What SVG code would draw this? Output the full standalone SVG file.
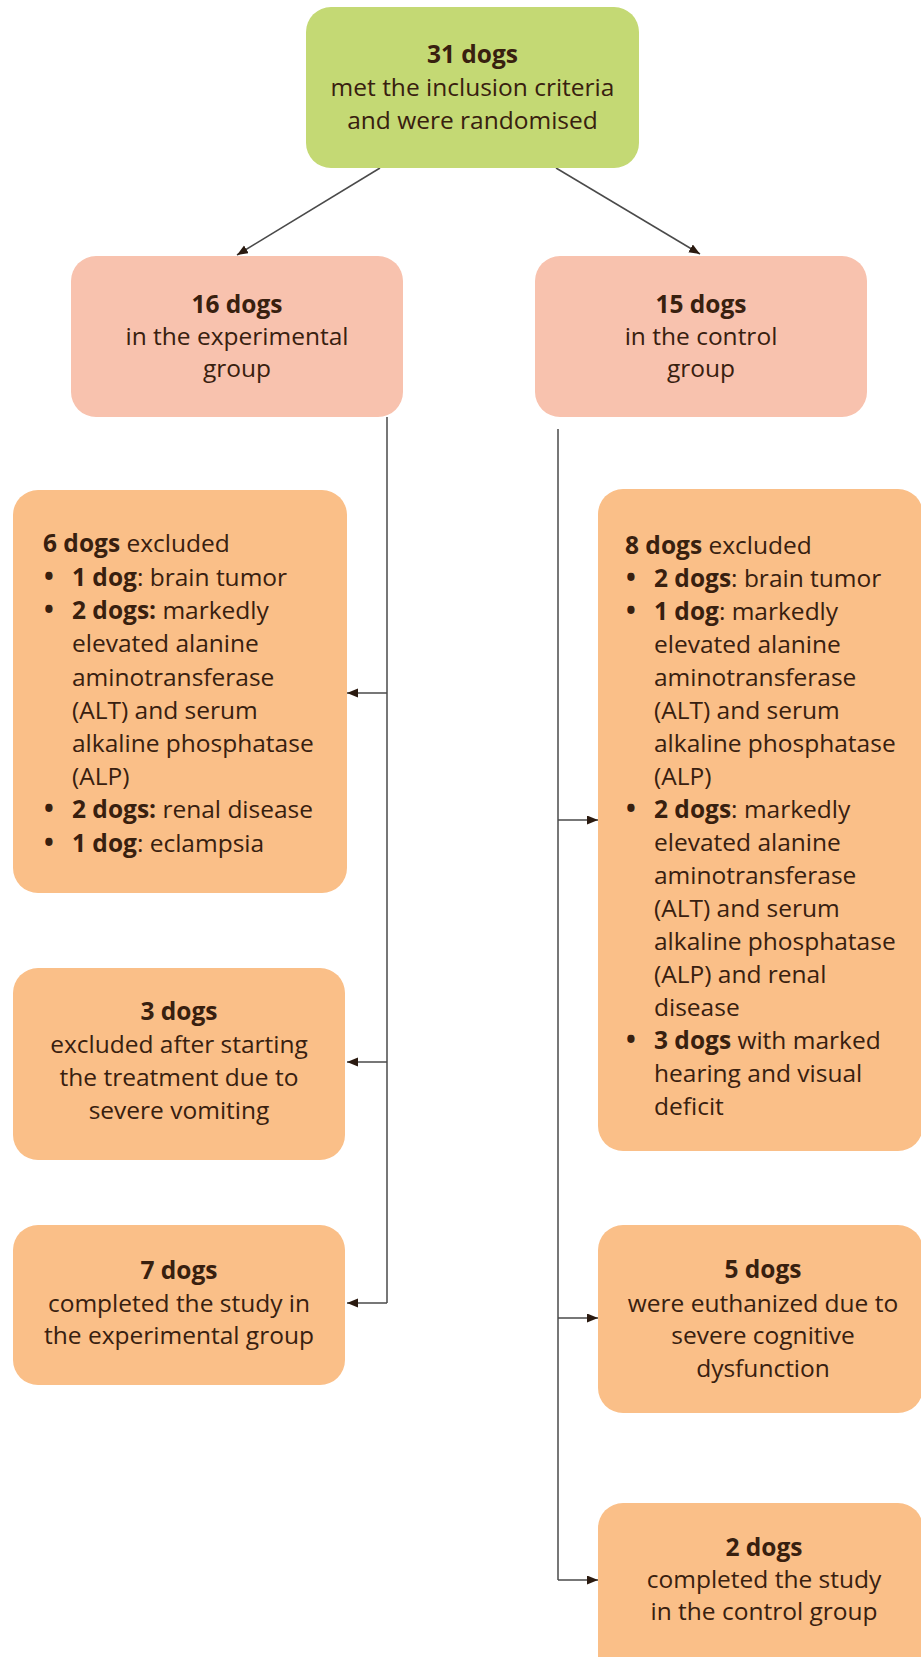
<svg xmlns="http://www.w3.org/2000/svg" width="921" height="1657" viewBox="0 0 921 1657">
<style>
text{font-family:"Open Sans","Liberation Sans",sans-serif;font-size:24.5px;fill:#38200f}
.c{text-anchor:middle}
.b{font-weight:bold}
.bl{font-weight:bold;font-size:26px;text-anchor:middle}
.g{fill:#c4d974}
.p{fill:#f8c2ae}
.o{fill:#fabf88}
.ln{fill:none;stroke:#4a4a4a;stroke-width:1.5}
</style>
<defs>
<marker id="ah" markerUnits="userSpaceOnUse" markerWidth="12" markerHeight="10" refX="11" refY="4.5" orient="auto">
<path d="M0,0 L11,4.5 L0,9 z" fill="#2a1a10"/>
</marker>
</defs>
<rect width="921" height="1657" fill="#ffffff"/>
<g id="connectors">
<path class="ln" d="M380,168 L237,255" marker-end="url(#ah)"/>
<path class="ln" d="M556,168 L700,254" marker-end="url(#ah)"/>
<path class="ln" d="M387,417 L387,1303"/>
<path class="ln" d="M387,693 L347,693" marker-end="url(#ah)"/>
<path class="ln" d="M387,1062 L347,1062" marker-end="url(#ah)"/>
<path class="ln" d="M387,1303 L347,1303" marker-end="url(#ah)"/>
<path class="ln" d="M558,429 L558,1580"/>
<path class="ln" d="M558,820 L598,820" marker-end="url(#ah)"/>
<path class="ln" d="M558,1318 L598,1318" marker-end="url(#ah)"/>
<path class="ln" d="M558,1580 L598,1580" marker-end="url(#ah)"/>
</g>
<g id="n31">
<rect class="g" x="306" y="7" width="333" height="161" rx="25"/>
<text class="c b" x="472.5" y="63">31 dogs</text>
<text class="c" x="472.5" y="96">met the inclusion criteria</text>
<text class="c" x="472.5" y="129">and were randomised</text>
</g>
<g id="n16">
<rect class="p" x="71" y="256" width="332" height="161" rx="25"/>
<text class="c b" x="237" y="313">16 dogs</text>
<text class="c" x="237" y="345">in the experimental</text>
<text class="c" x="237" y="377">group</text>
</g>
<g id="n15">
<rect class="p" x="535" y="256" width="332" height="161" rx="25"/>
<text class="c b" x="701" y="313">15 dogs</text>
<text class="c" x="701" y="345">in the control</text>
<text class="c" x="701" y="377">group</text>
</g>
<g id="n6">
<rect class="o" x="13" y="490" width="334" height="403" rx="25"/>
<text x="43" y="552"><tspan class="b">6 dogs</tspan> excluded</text>
<text class="bl" x="49" y="586">•</text>
<text x="72" y="586"><tspan class="b">1 dog</tspan>: brain tumor</text>
<text class="bl" x="49" y="619">•</text>
<text x="72" y="619"><tspan class="b">2 dogs:</tspan> markedly</text>
<text x="72" y="652">elevated alanine</text>
<text x="72" y="686">aminotransferase</text>
<text x="72" y="719">(ALT) and serum</text>
<text x="72" y="752">alkaline phosphatase</text>
<text x="72" y="785">(ALP)</text>
<text class="bl" x="49" y="818">•</text>
<text x="72" y="818"><tspan class="b">2 dogs:</tspan> renal disease</text>
<text class="bl" x="49" y="852">•</text>
<text x="72" y="852"><tspan class="b">1 dog</tspan>: eclampsia</text>
</g>
<g id="n3">
<rect class="o" x="13" y="968" width="332" height="192" rx="25"/>
<text class="c b" x="179" y="1020">3 dogs</text>
<text class="c" x="179" y="1053">excluded after starting</text>
<text class="c" x="179" y="1086">the treatment due to</text>
<text class="c" x="179" y="1119">severe vomiting</text>
</g>
<g id="n7">
<rect class="o" x="13" y="1225" width="332" height="160" rx="25"/>
<text class="c b" x="179" y="1279">7 dogs</text>
<text class="c" x="179" y="1312">completed the study in</text>
<text class="c" x="179" y="1344">the experimental group</text>
</g>
<g id="n8">
<rect class="o" x="598" y="489" width="325" height="662" rx="25"/>
<text x="625" y="554"><tspan class="b">8 dogs</tspan> excluded</text>
<text class="bl" x="631" y="587">•</text>
<text x="654" y="587"><tspan class="b">2 dogs</tspan>: brain tumor</text>
<text class="bl" x="631" y="620">•</text>
<text x="654" y="620"><tspan class="b">1 dog</tspan>: markedly</text>
<text x="654" y="653">elevated alanine</text>
<text x="654" y="686">aminotransferase</text>
<text x="654" y="719">(ALT) and serum</text>
<text x="654" y="752">alkaline phosphatase</text>
<text x="654" y="785">(ALP)</text>
<text class="bl" x="631" y="818">•</text>
<text x="654" y="818"><tspan class="b">2 dogs</tspan>: markedly</text>
<text x="654" y="851">elevated alanine</text>
<text x="654" y="884">aminotransferase</text>
<text x="654" y="917">(ALT) and serum</text>
<text x="654" y="950">alkaline phosphatase</text>
<text x="654" y="983">(ALP) and renal</text>
<text x="654" y="1016">disease</text>
<text class="bl" x="631" y="1049">•</text>
<text x="654" y="1049"><tspan class="b">3 dogs</tspan> with marked</text>
<text x="654" y="1082">hearing and visual</text>
<text x="654" y="1115">deficit</text>
</g>
<g id="n5">
<rect class="o" x="598" y="1225" width="325" height="188" rx="25"/>
<text class="c b" x="763" y="1278">5 dogs</text>
<text class="c" x="763" y="1312">were euthanized due to</text>
<text class="c" x="763" y="1344">severe cognitive</text>
<text class="c" x="763" y="1377">dysfunction</text>
</g>
<g id="n2">
<rect class="o" x="598" y="1503" width="325" height="180" rx="25"/>
<text class="c b" x="764" y="1556">2 dogs</text>
<text class="c" x="764" y="1588">completed the study</text>
<text class="c" x="764" y="1620">in the control group</text>
</g>
</svg>
